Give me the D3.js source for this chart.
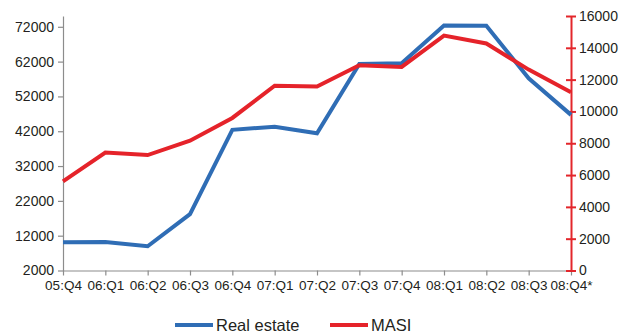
<!DOCTYPE html>
<html lang="en">
<head>
<meta charset="utf-8">
<title>Real estate vs MASI</title>
<script src="https://cdn.jsdelivr.net/npm/d3@7/dist/d3.min.js"></script>
<style>
  body { margin: 0; background: #fff; }
  text { font-family: "Liberation Sans", Arial, sans-serif; fill: #231f20; }
  .axis text { font-size: 14px; }
  .bottom text { font-size: 13.5px; }
  .left path, .left line, .bottom path, .bottom line { stroke: #8c8c8c; stroke-width: 1.2; }
  .right path, .right line { stroke: #e3262b; stroke-width: 2; }
  .legend text { font-size: 16.5px; }
</style>
</head>
<body>
<script>
// quarters on the x axis
var quarters = ["05:Q4", "06:Q1", "06:Q2", "06:Q3", "06:Q4", "07:Q1", "07:Q2",
                "07:Q3", "07:Q4", "08:Q1", "08:Q2", "08:Q3", "08:Q4*"];

// real estate index (left axis)
var realEstate = [10100, 10200, 8950, 18200, 42400, 43300, 41400,
                  61300, 61500, 72400, 72300, 57200, 46700];

// MASI (right axis)
var masi = [5600, 7420, 7260, 8160, 9590, 11620, 11570,
            12900, 12800, 14770, 14270, 12630, 11200];

var leftTicks = [2000, 12000, 22000, 32000, 42000, 52000, 62000, 72000];
var rightTicks = [0, 2000, 4000, 6000, 8000, 10000, 12000, 14000, 16000];

var w = 625, h = 336;
var x0 = 63, x1 = 571, yTop = 16, yBot = 270.5;

var svg = d3.select("body").append("svg")
  .attr("width", w)
  .attr("height", h);

var xScale = d3.scalePoint()
  .domain(quarters)
  .range([x0, x1]);

var yLeft = d3.scaleLinear()
  .domain([2000, 75100])
  .range([yBot, yTop]);

var yRight = d3.scaleLinear()
  .domain([0, 16000])
  .range([yBot, yTop]);

// axes
svg.append("g")
  .attr("class", "axis bottom")
  .attr("transform", "translate(0," + yBot + ")")
  .call(d3.axisBottom(xScale).tickSize(5).tickSizeOuter(0).tickPadding(5));

svg.append("g")
  .attr("class", "axis left")
  .attr("transform", "translate(" + x0 + ",0)")
  .call(d3.axisLeft(yLeft).tickValues(leftTicks).tickSize(5).tickSizeOuter(0)
    .tickFormat(d3.format("d")).tickPadding(4));

var rightAxis = svg.append("g")
  .attr("class", "axis right")
  .attr("transform", "translate(" + x1 + ",0)")
  .call(d3.axisRight(yRight).tickValues(rightTicks).tickSize(5).tickSizeOuter(0)
    .tickFormat(d3.format("d")).tickPadding(3));

// right ticks cross the axis line
rightAxis.selectAll(".tick line").attr("x1", -5);

// lines
var lineLeft = d3.line()
  .x(function(d, i) { return xScale(quarters[i]); })
  .y(function(d) { return yLeft(d); });

var lineRight = d3.line()
  .x(function(d, i) { return xScale(quarters[i]); })
  .y(function(d) { return yRight(d); });

svg.append("path")
  .datum(realEstate)
  .attr("fill", "none")
  .attr("stroke", "#2f6db5")
  .attr("stroke-width", 4)
  .attr("d", lineLeft);

svg.append("path")
  .datum(masi)
  .attr("fill", "none")
  .attr("stroke", "#e5232a")
  .attr("stroke-width", 4)
  .attr("d", lineRight);

// legend
var legendItems = [
  { name: "Real estate", color: "#2f6db5", x: 175 },
  { name: "MASI", color: "#e5232a", x: 330 }
];

var legend = svg.append("g").attr("class", "legend");

legend.selectAll("line")
  .data(legendItems)
  .enter().append("line")
  .attr("x1", function(d) { return d.x; })
  .attr("x2", function(d) { return d.x + 38; })
  .attr("y1", 325)
  .attr("y2", 325)
  .attr("stroke", function(d) { return d.color; })
  .attr("stroke-width", 4);

legend.selectAll("text")
  .data(legendItems)
  .enter().append("text")
  .attr("x", function(d) { return d.x + 41; })
  .attr("y", 331)
  .text(function(d) { return d.name; });
</script>
</body>
</html>
